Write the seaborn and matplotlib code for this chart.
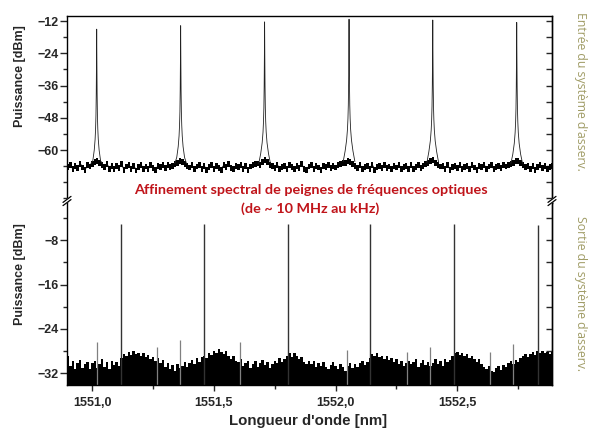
"""
Spectre optique avant / après asservissement (peigne de fréquences), deux panneaux avec coupure d'axe.
"""
import numpy as np
import matplotlib
matplotlib.use('Agg')
from matplotlib import pyplot as plt
from matplotlib.ticker import MultipleLocator, FixedLocator
from matplotlib.lines import Line2D
import seaborn as sns

# --- valeurs ---
x_start = 1550.90
x_step = 0.01

# plancher de bruit, panneau du haut (dBm), un point tous les 0.01 nm
top_floor = [
    -66.2, -65.3, -67.1, -65.8, -66.7, -65.0, -66.4, -67.4, -65.6, -66.0,
    -65.2, -64.3, -63.8, -64.6, -65.5, -66.3, -65.1, -66.8, -65.7, -67.0,
    -65.9, -66.6, -65.2, -67.2, -66.0, -65.4, -66.9, -65.7, -67.5, -66.1,
    -65.5, -66.8, -66.0, -67.0, -65.3, -66.5, -67.3, -65.8, -66.2, -65.6,
    -66.7, -65.4, -66.3, -65.9, -65.0, -64.8, -63.9, -64.2, -65.0, -65.7,
    -66.4, -65.6, -67.1, -66.0, -65.3, -66.8, -65.9, -67.4, -66.2, -65.5,
    -66.9, -65.8, -66.5, -67.2, -65.6, -66.3, -65.1, -66.7, -67.0, -65.9,
    -66.1, -65.4, -66.8, -65.7, -67.3, -66.0, -65.5, -65.2, -64.9, -65.6,
    -64.4, -63.7, -64.5, -65.3, -65.9, -66.6, -65.4, -67.0, -66.1, -65.8,
    -66.9, -65.6, -66.3, -67.1, -65.9, -66.5, -65.2, -66.8, -67.2, -66.0,
    -65.6, -66.9, -65.8, -66.4, -67.3, -65.7, -66.2, -65.3, -66.7, -65.9,
    -66.4, -65.6, -65.1, -64.8, -64.6, -63.8, -64.3, -65.0, -65.9, -66.5,
    -65.5, -67.0, -66.1, -65.7, -66.8, -65.4, -67.2, -66.3, -65.9, -66.6,
    -65.3, -66.7, -66.0, -67.1, -65.8, -66.4, -65.5, -66.9, -66.2, -65.7,
    -66.8, -65.6, -67.0, -66.1, -65.4, -66.5, -65.8, -65.2, -64.7, -64.1,
    -63.7, -64.6, -65.4, -66.0, -65.7, -66.9, -65.5, -67.2, -66.3, -65.8,
    -66.6, -65.4, -67.0, -66.2, -65.9, -66.8, -65.6, -66.4, -67.3, -65.7,
    -66.3, -65.5, -66.9, -66.0, -65.6, -67.1, -66.2, -65.8, -66.5, -65.3,
    -66.0, -65.4, -65.1, -64.6, -64.0, -63.9, -64.8, -65.5, -66.2, -65.7,
    -66.8, -65.9, -67.2, -66.1, -65.5, -66.6, -65.8, -67.0, -66.3, -65.9,
]
top_peak_pos = [1551.018, 1551.363, 1551.708, 1552.055, 1552.399, 1552.744]
top_peak_dbm = [-15.0, -13.7, -12.3, -11.3, -11.6, -12.5]
# forme d'une raie : écart au centre (nm) et chute sous le sommet (dB)
peak_offset = [0.0, 0.0008, 0.0018, 0.003, 0.0045, 0.0065, 0.010, 0.016, 0.024]
peak_drop = [0.0, 12.0, 24.0, 32.0, 37.0, 41.0, 45.0, 49.0, 53.0]

# sommet du bruit, panneau du bas (dBm), un point tous les 0.01 nm
bot_noise = [
    -28.8, -30.6, -29.7, -31.2, -30.1, -29.6, -31.0, -30.3, -29.9, -31.3,
    -30.2, -29.8, -31.1, -30.4, -29.5, -30.9, -30.0, -31.2, -29.7, -30.5,
    -29.9, -30.7, -29.2, -28.6, -28.9, -28.2, -28.7, -28.0, -28.5, -28.3,
    -28.8, -28.4, -29.1, -28.7, -29.4, -29.0, -29.8, -29.3, -30.2, -29.6,
    -30.8, -30.1, -31.2, -30.5, -31.5, -30.3, -31.0, -30.6, -29.9, -30.8,
    -30.2, -29.6, -30.4, -29.3, -29.9, -29.0, -28.8, -29.3, -28.4, -28.7,
    -27.9, -28.3, -27.6, -28.1, -28.6, -28.0, -28.9, -29.4, -28.8, -29.7,
    -30.0, -29.5, -30.6, -30.1, -29.7, -31.0, -30.3, -29.8, -30.9, -30.2,
    -29.6, -30.5, -29.9, -31.1, -30.4, -29.7, -30.2, -29.3, -30.0, -29.5,
    -28.9, -28.4, -29.0, -28.3, -28.8, -29.4, -29.1, -29.9, -30.3, -29.7,
    -30.4, -29.8, -30.8, -30.1, -30.6, -29.9, -30.9, -31.2, -30.5, -30.0,
    -30.7, -31.3, -30.3, -30.9, -31.5, -30.6, -30.1, -31.0, -30.4, -30.8,
    -30.2, -29.7, -30.5, -30.0, -29.3, -28.6, -28.9, -28.4, -29.1, -28.8,
    -29.4, -28.9, -29.6, -29.2, -30.0, -29.5, -30.3, -29.8, -30.6, -30.1,
    -29.7, -30.4, -30.0, -29.5, -30.8, -30.2, -29.6, -30.5, -29.9, -30.6,
    -30.1, -29.5, -30.3, -29.8, -30.7, -29.4, -30.0, -29.6, -28.9, -28.4,
    -28.2, -28.7, -28.3, -28.9, -28.5, -29.2, -28.8, -29.5, -29.9, -29.4,
    -30.3, -30.8, -31.2, -30.6, -31.5, -31.8, -31.1, -30.7, -31.4, -30.5,
    -30.9, -30.2, -29.8, -30.4, -29.6, -29.9, -29.2, -28.9, -28.5, -29.1,
    -28.6, -28.2, -28.7, -28.0, -28.4, -27.9, -28.3, -28.1, -28.6, -28.2,
]
bot_peak_pos = [1551.116, 1551.460, 1551.803, 1552.143, 1552.487, 1552.830]
bot_peak_dbm = [-5.0, -5.0, -5.0, -5.0, -5.0, -5.3]
bot_spike_pos = [1551.018, 1551.265, 1551.360, 1551.607, 1552.046,
                 1552.292, 1552.388, 1552.635, 1552.730]
bot_spike_dbm = [-26.3, -27.2, -26.0, -26.4, -27.8, -28.1, -27.2, -28.1, -26.7]

x_ticks = [1551.0, 1551.5, 1552.0, 1552.5]
x_ticklabels = ['1551,0', '1551,5', '1552,0', '1552,5']
top_yticks = [-60, -48, -36, -24, -12]
bot_yticks = [-32, -24, -16, -8]

sns.set_style('ticks')
plt.rcParams['font.family'] = ['Liberation Sans', 'DejaVu Sans']

W, H = 589, 430
fig = plt.figure(figsize=(W / 100, H / 100), dpi=100)
left, right, top, split, bottom = 67, 552, 16, 203, 385
ax1 = fig.add_axes([left / W, 1 - split / H, (right - left) / W, (split - top) / H])
ax2 = fig.add_axes([left / W, 1 - bottom / H, (right - left) / W, (bottom - split) / H])

xg = x_start + x_step * np.arange(len(top_floor))
floor = np.array(top_floor)

# panneau du haut : entrée
ax1.fill_between(xg, floor - 1.2, floor + 1.0, step='mid', color='black', lw=0)
sns.lineplot(x=xg, y=top_floor, ax=ax1, color='black', lw=0.7, estimator=None, sort=False)
offs = np.array(peak_offset)
drops = np.array(peak_drop)
prof_x = np.concatenate([-offs[::-1], offs[1:]])
prof_d = np.concatenate([drops[::-1], drops[1:]])
for c, h in zip(top_peak_pos, top_peak_dbm):
    ax1.plot(c + prof_x, np.maximum(h - prof_d, -65.0), color='#222222', lw=0.6)

# panneau du bas : sortie
ax2.fill_between(xg, -40, bot_noise, step='mid', color='black', lw=0)
ax2.vlines(bot_spike_pos, -40, bot_spike_dbm, color='#808080', lw=0.9)
ax2.vlines(bot_peak_pos, -40, bot_peak_dbm, color='#333333', lw=1.0)

xlim = (1550.896, 1552.889)
for ax in (ax1, ax2):
    ax.set_xlim(*xlim)
    ax.set_xlabel('')
    ax.set_ylabel('')
    for s in ax.spines.values():
        s.set_linewidth(1.0)
        s.set_color('black')

ax1.set_ylim(-79.7, -10.1)
ax2.set_ylim(-34.1, -1.3)
ax1.spines['bottom'].set_visible(False)
ax2.spines['top'].set_visible(False)

ax1.set_yticks(top_yticks)
ax1.yaxis.set_minor_locator(MultipleLocator(6))
ax2.set_yticks(bot_yticks)
ax2.yaxis.set_minor_locator(MultipleLocator(4))
ax1.tick_params(axis='x', bottom=False, labelbottom=False, which='both')
ax2.set_xticks(x_ticks)
ax2.set_xticklabels(x_ticklabels)
ax2.xaxis.set_minor_locator(FixedLocator([1551.25, 1551.75, 1552.25, 1552.75]))
ax2.tick_params(axis='x', which='major', direction='out', length=4, width=1, pad=5, labelsize=9)
ax2.tick_params(axis='x', which='minor', direction='out', length=3, width=1)
for ax in (ax1, ax2):
    ax.tick_params(axis='y', which='major', direction='out', length=5, width=1, pad=1, labelsize=9)
    ax.tick_params(axis='y', which='minor', direction='out', length=3, width=1)
    for lab in ax.get_xticklabels() + ax.get_yticklabels():
        lab.set_fontweight('bold')
    sec = ax.secondary_yaxis('right')
    sec.set_yticks(ax.get_yticks())
    sec.yaxis.set_minor_locator(ax.yaxis.get_minor_locator())
    sec.tick_params(axis='y', which='both', direction='in', length=4, width=1, labelright=False)
    sec.spines['right'].set_linewidth(1.0)

# coupure d'axe (double barre)
def fx(px):
    return px / W

def fy(py):
    return 1 - py / H

for px in (left, right):
    fig.add_artist(Line2D([fx(px - 4), fx(px + 4)], [fy(split + 1), fy(split - 5)],
                          color='white', lw=2.5, transform=fig.transFigure))
    for d in (-1.6, 1.6):
        fig.add_artist(Line2D([fx(px - 4), fx(px + 4)], [fy(split + 1 + d), fy(split - 5 + d)],
                              color='black', lw=0.9, transform=fig.transFigure))

# textes
fig.text(20 / W, fy(76), 'Puissance [dBm]', rotation=90, ha='center', va='center',
         fontsize=9, fontweight='bold')
fig.text(20 / W, fy(274), 'Puissance [dBm]', rotation=90, ha='center', va='center',
         fontsize=9, fontweight='bold')
fig.text(308 / W, fy(421), "Longueur d'onde [nm]", ha='center', va='center',
         fontsize=10.8, fontweight='bold')

fig.text(311 / W, fy(190), 'Affinement spectral de peignes de fréquences optiques',
         ha='center', va='center', fontsize=10.4, fontweight='bold', color='#c0141a',
         family=['Lato', 'DejaVu Sans'])
fig.text(310 / W, fy(209), '(de ~ 10 MHz au kHz)',
         ha='center', va='center', fontsize=10.4, fontweight='bold', color='#c0141a',
         family=['Lato', 'DejaVu Sans'])

olive = '#a09c66'
fig.text(580 / W, fy(91), "Entrée du système d'asserv.", rotation=-90, ha='center', va='center',
         fontsize=8.8, color=olive, family=['Open Sans', 'DejaVu Sans'])
fig.text(580 / W, fy(293), "Sortie du système d'asserv.", rotation=-90, ha='center', va='center',
         fontsize=8.8, color=olive, family=['Open Sans', 'DejaVu Sans'])

plt.savefig('out.png', dpi=100)
